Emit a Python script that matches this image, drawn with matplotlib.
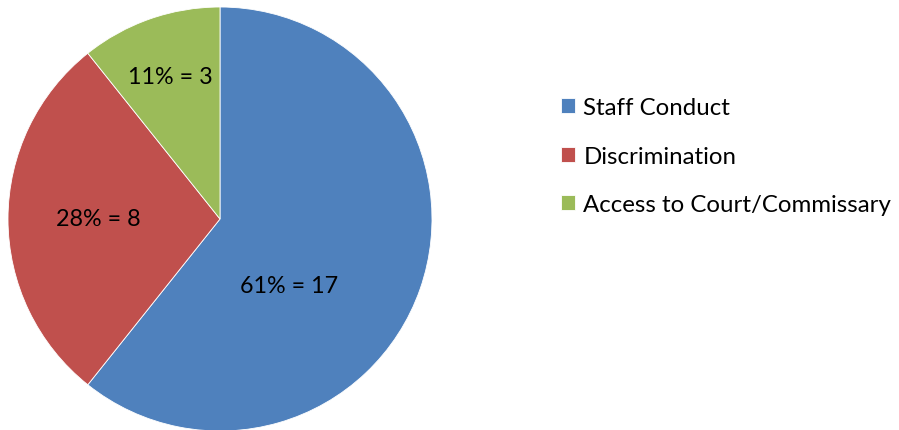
import matplotlib.pyplot as plt
import numpy as np

# complaint categories, counts and the percentages shown on the labels
categories = ['Staff Conduct', 'Discrimination', 'Access to Court/Commissary']
counts = [17, 8, 3]
percents = [61, 28, 11]
colors = ['#4F81BD', '#C0504D', '#9BBB59']

# where each data label sits: (fraction of radius, angle in degrees)
label_pos = [(0.45, -44.0), (0.575, 180.0), (0.71, 109.3)]

plt.rcParams['font.family'] = ['Lato', 'DejaVu Sans']

fig = plt.figure(figsize=(8.99, 4.31), dpi=100)
ax = fig.add_axes([8 / 899, -1 / 431, 424 / 899, 424 / 431])

wedges, _ = ax.pie(counts, colors=colors, startangle=90, counterclock=False,
                   radius=1.0,
                   wedgeprops=dict(edgecolor='white', linewidth=0.6))
ax.set_xlim(-1, 1)
ax.set_ylim(-1, 1)
ax.set_aspect('equal')
ax.axis('off')

for n, pct, (r, ang) in zip(counts, percents, label_pos):
    a = np.deg2rad(ang)
    ax.text(r * np.cos(a), r * np.sin(a), '%d%% = %d' % (pct, n),
            ha='center', va='center', fontsize=16.8, color='black')

leg = fig.legend(wedges, categories, loc='upper left',
                 bbox_to_anchor=(561 / 899, 1 - 98 / 431),
                 frameon=False, fontsize=17.3,
                 handlelength=0.58, handleheight=0.58, handletextpad=0.35,
                 labelspacing=1.15, borderaxespad=0, borderpad=0)

fig.savefig('out.png', dpi=100)
